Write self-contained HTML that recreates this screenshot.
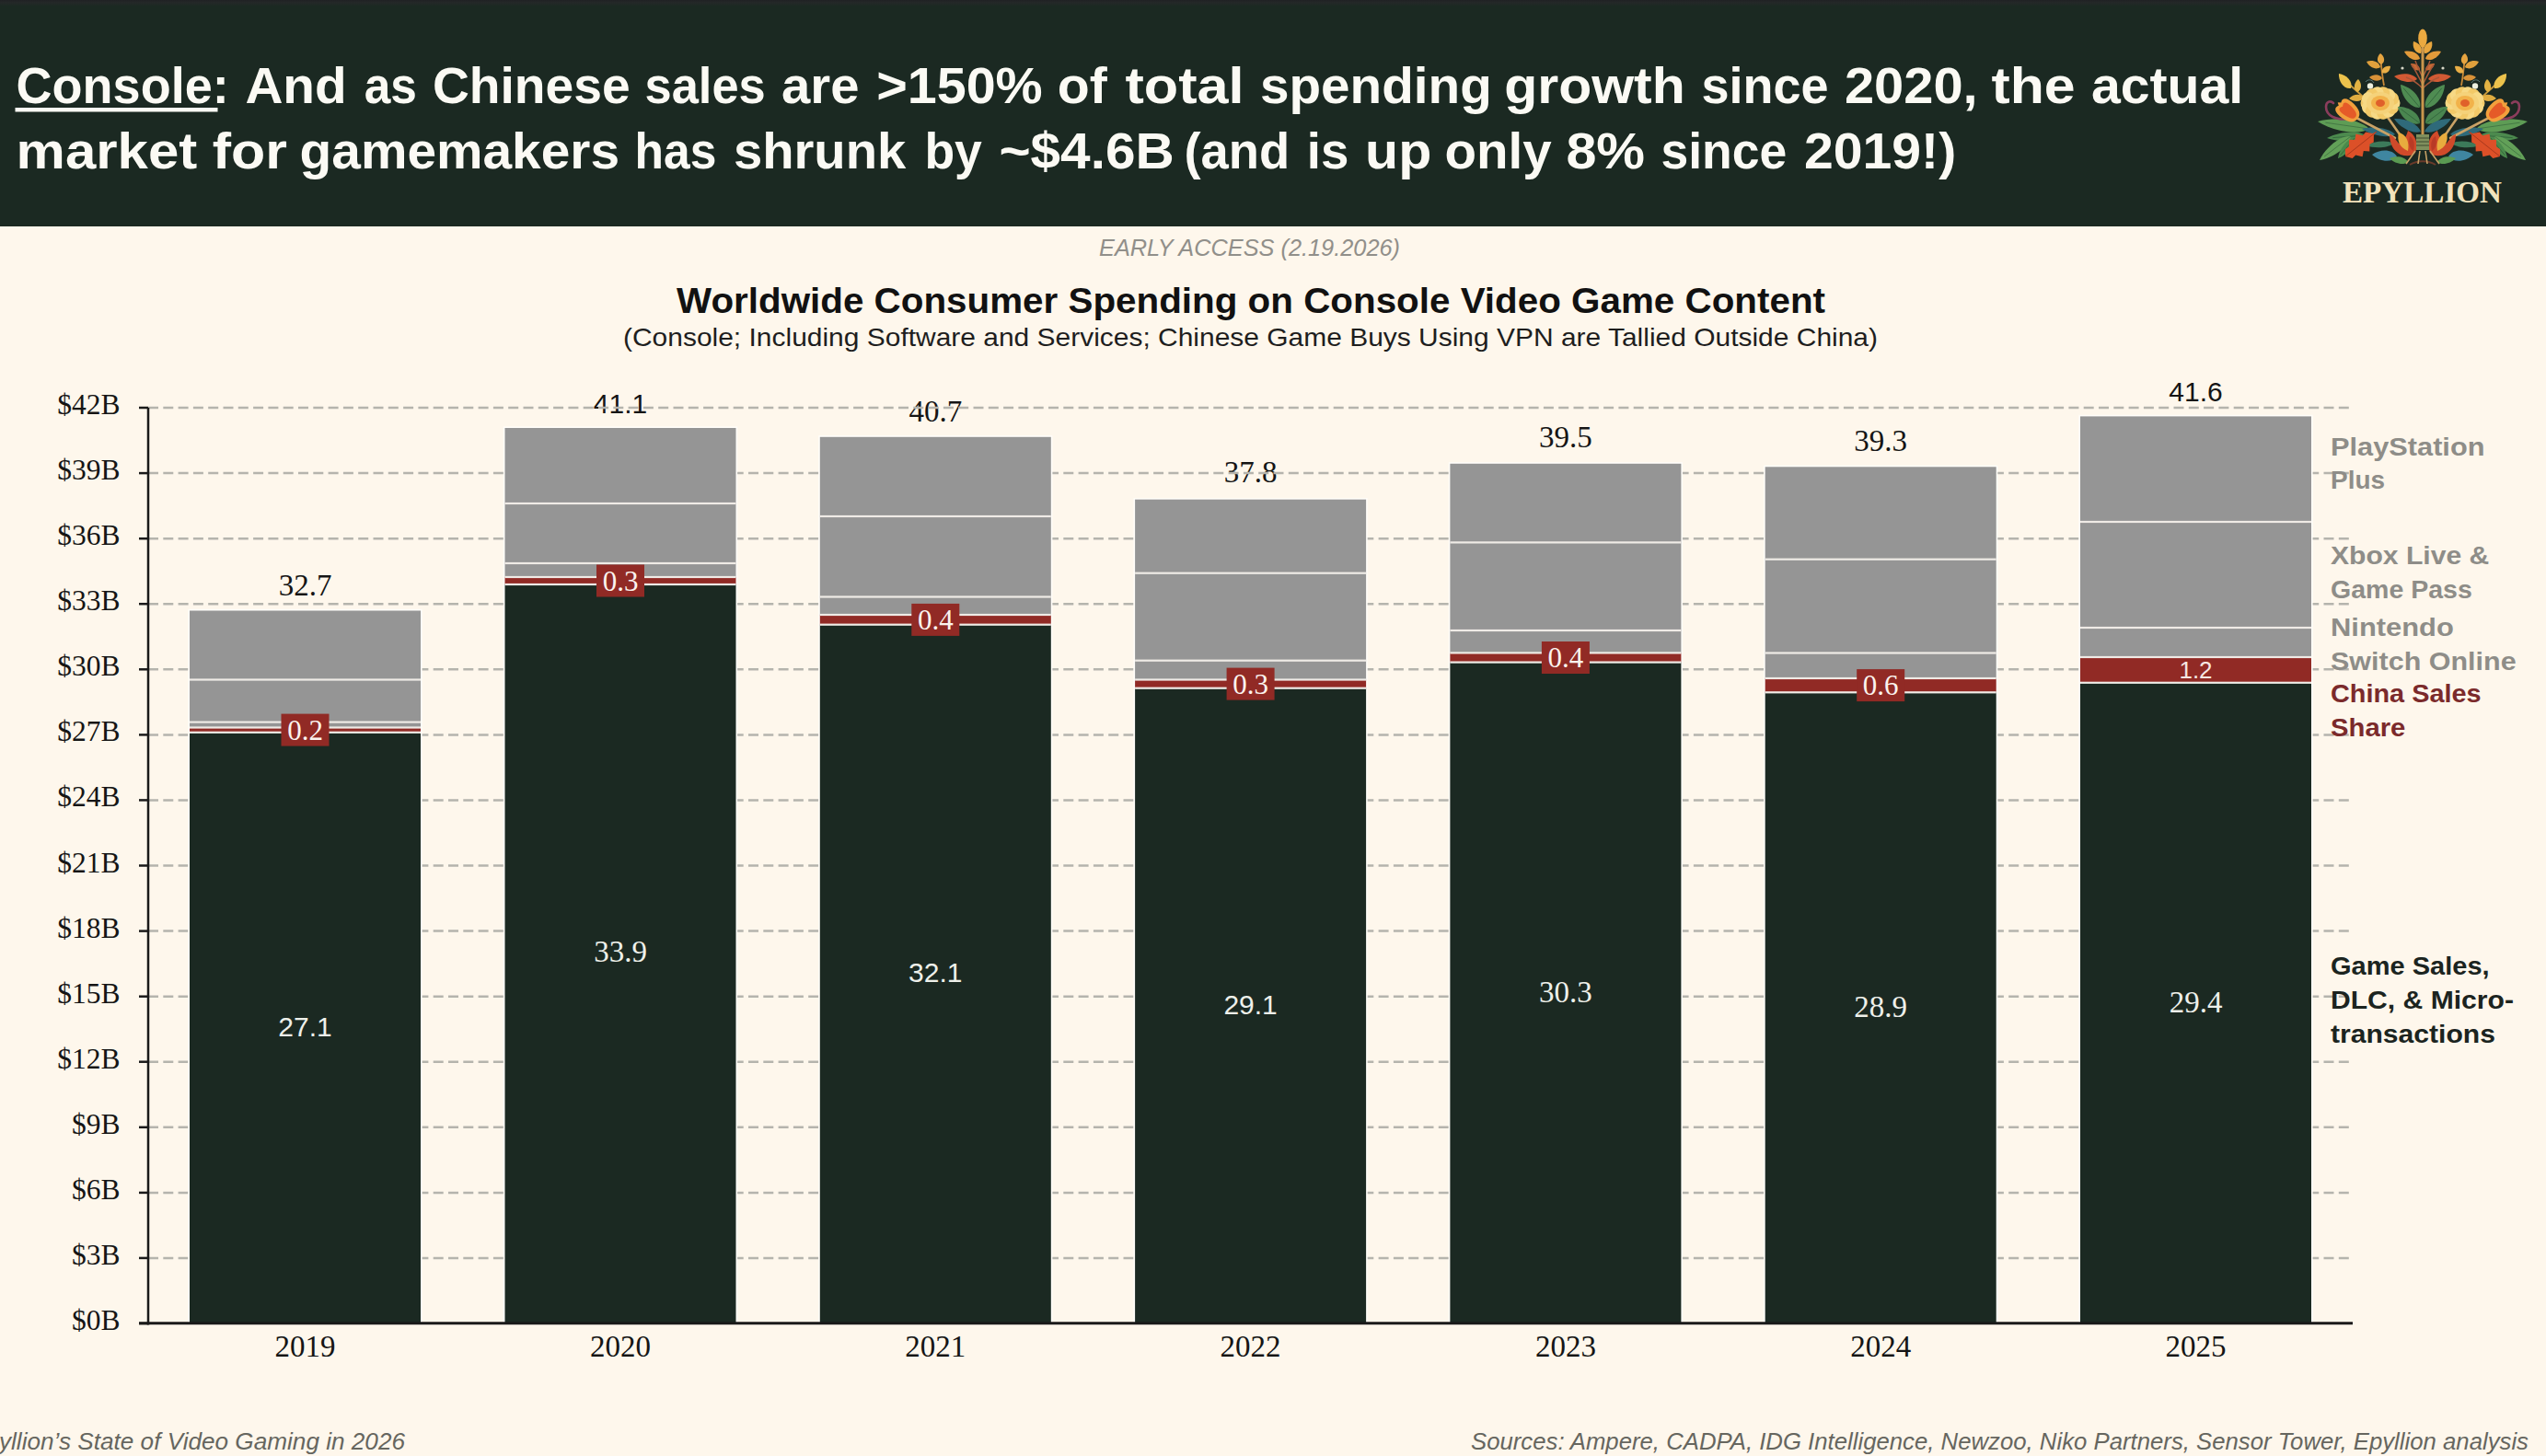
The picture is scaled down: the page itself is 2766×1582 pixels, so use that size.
<!DOCTYPE html><html><head><meta charset="utf-8"><style>html,body{margin:0;padding:0;background:#fef7ec;width:2766px;height:1582px;overflow:hidden}svg{display:block}text{font-family:"Liberation Sans",sans-serif}.sf{font-family:"Liberation Serif",serif}</style></head><body>
<svg width="2766" height="1582" viewBox="0 0 2766 1582">
<rect x="0" y="0" width="2766" height="1582" fill="#fef7ec"/>
<defs><linearGradient id="topg" x1="0" y1="0" x2="0" y2="1"><stop offset="0" stop-color="#202124"/><stop offset="0.4" stop-color="#242828"/><stop offset="1" stop-color="#1b2922"/></linearGradient></defs>
<rect x="0" y="0" width="2766" height="246" fill="#1b2922"/>
<rect x="0" y="0" width="2766" height="7" fill="url(#topg)"/>
<text x="17.6" y="112" font-size="56" font-weight="bold" fill="#fbfaf4" textLength="231.1" lengthAdjust="spacingAndGlyphs">Console:</text>
<text x="266.4" y="112" font-size="56" font-weight="bold" fill="#fbfaf4" textLength="110.3" lengthAdjust="spacingAndGlyphs">And</text>
<text x="395.7" y="112" font-size="56" font-weight="bold" fill="#fbfaf4" textLength="57.2" lengthAdjust="spacingAndGlyphs">as</text>
<text x="469.9" y="112" font-size="56" font-weight="bold" fill="#fbfaf4" textLength="214.8" lengthAdjust="spacingAndGlyphs">Chinese</text>
<text x="700.6" y="112" font-size="56" font-weight="bold" fill="#fbfaf4" textLength="131.1" lengthAdjust="spacingAndGlyphs">sales</text>
<text x="849.1" y="112" font-size="56" font-weight="bold" fill="#fbfaf4" textLength="84.4" lengthAdjust="spacingAndGlyphs">are</text>
<text x="952.2" y="112" font-size="56" font-weight="bold" fill="#fbfaf4" textLength="180.5" lengthAdjust="spacingAndGlyphs">&gt;150%</text>
<text x="1148.8" y="112" font-size="56" font-weight="bold" fill="#fbfaf4" textLength="54.0" lengthAdjust="spacingAndGlyphs">of</text>
<text x="1222.4" y="112" font-size="56" font-weight="bold" fill="#fbfaf4" textLength="129.2" lengthAdjust="spacingAndGlyphs">total</text>
<text x="1368.9" y="112" font-size="56" font-weight="bold" fill="#fbfaf4" textLength="251.9" lengthAdjust="spacingAndGlyphs">spending</text>
<text x="1634.2" y="112" font-size="56" font-weight="bold" fill="#fbfaf4" textLength="196.6" lengthAdjust="spacingAndGlyphs">growth</text>
<text x="1848.4" y="112" font-size="56" font-weight="bold" fill="#fbfaf4" textLength="138.2" lengthAdjust="spacingAndGlyphs">since</text>
<text x="2003.9" y="112" font-size="56" font-weight="bold" fill="#fbfaf4" textLength="144.8" lengthAdjust="spacingAndGlyphs">2020,</text>
<text x="2163.4" y="112" font-size="56" font-weight="bold" fill="#fbfaf4" textLength="91.2" lengthAdjust="spacingAndGlyphs">the</text>
<text x="2271.9" y="112" font-size="56" font-weight="bold" fill="#fbfaf4" textLength="165.3" lengthAdjust="spacingAndGlyphs">actual</text>
<text x="17.6" y="182.8" font-size="56" font-weight="bold" fill="#fbfaf4" textLength="196.6" lengthAdjust="spacingAndGlyphs">market</text>
<text x="230.7" y="182.8" font-size="56" font-weight="bold" fill="#fbfaf4" textLength="81.2" lengthAdjust="spacingAndGlyphs">for</text>
<text x="325.6" y="182.8" font-size="56" font-weight="bold" fill="#fbfaf4" textLength="347.4" lengthAdjust="spacingAndGlyphs">gamemakers</text>
<text x="689.6" y="182.8" font-size="56" font-weight="bold" fill="#fbfaf4" textLength="88.9" lengthAdjust="spacingAndGlyphs">has</text>
<text x="796.9" y="182.8" font-size="56" font-weight="bold" fill="#fbfaf4" textLength="187.4" lengthAdjust="spacingAndGlyphs">shrunk</text>
<text x="1004.4" y="182.8" font-size="56" font-weight="bold" fill="#fbfaf4" textLength="62.5" lengthAdjust="spacingAndGlyphs">by</text>
<text x="1085.4" y="182.8" font-size="56" font-weight="bold" fill="#fbfaf4" textLength="190.3" lengthAdjust="spacingAndGlyphs">~$4.6B</text>
<text x="1286.4" y="182.8" font-size="56" font-weight="bold" fill="#fbfaf4" textLength="114.7" lengthAdjust="spacingAndGlyphs">(and</text>
<text x="1419.7" y="182.8" font-size="56" font-weight="bold" fill="#fbfaf4" textLength="45.6" lengthAdjust="spacingAndGlyphs">is</text>
<text x="1483.0" y="182.8" font-size="56" font-weight="bold" fill="#fbfaf4" textLength="72.3" lengthAdjust="spacingAndGlyphs">up</text>
<text x="1569.4" y="182.8" font-size="56" font-weight="bold" fill="#fbfaf4" textLength="116.3" lengthAdjust="spacingAndGlyphs">only</text>
<text x="1701.4" y="182.8" font-size="56" font-weight="bold" fill="#fbfaf4" textLength="85.7" lengthAdjust="spacingAndGlyphs">8%</text>
<text x="1804.4" y="182.8" font-size="56" font-weight="bold" fill="#fbfaf4" textLength="136.9" lengthAdjust="spacingAndGlyphs">since</text>
<text x="1959.9" y="182.8" font-size="56" font-weight="bold" fill="#fbfaf4" textLength="165.3" lengthAdjust="spacingAndGlyphs">2019!)</text>
<rect x="16.5" y="117" width="220" height="4.5" fill="#fbfaf4"/>
<g transform="translate(2632,0)">
<defs>
<g id="half">
<path d="M58.0,140.0 C70.5,147.8 98.3,142.4 114.0,132.0 C96.1,126.4 67.9,129.0 58.0,140.0 Z" fill="#5e9c55"/><path d="M58.0,140.0 L105.6,133.2" stroke="#3d7040" stroke-width="0.8"/>
<path d="M62.0,147.0 C69.9,154.3 91.0,154.8 104.0,150.0 C91.8,143.4 70.9,140.9 62.0,147.0 Z" fill="#4c8a4e"/><path d="M62.0,147.0 L97.7,149.6" stroke="#2f6038" stroke-width="0.8"/>
<path d="M78.0,148.0 C79.9,159.6 97.6,171.7 112.0,174.0 C106.0,160.7 89.7,146.8 78.0,148.0 Z" fill="#62a058"/><path d="M78.0,148.0 L106.9,170.1" stroke="#3d7040" stroke-width="0.8"/>
<path d="M74.0,150.0 C72.9,158.2 82.6,168.7 92.0,172.0 C90.6,162.1 82.3,150.6 74.0,150.0 Z" fill="#4a8a4c"/><path d="M74.0,150.0 L89.3,168.7" stroke="#2f6038" stroke-width="0.8"/>
<path d="M30.0,146.0 C38.2,150.8 56.1,146.9 66.0,140.0 C54.3,136.7 36.2,138.8 30.0,146.0 Z" fill="#2f6a7a"/>
<path d="M32.0,156.0 C37.7,161.1 52.7,161.4 62.0,158.0 C53.3,153.4 38.3,151.7 32.0,156.0 Z" fill="#3c7a5a"/>
<polygon points="84.0,170.0 84.1,162.1 80.1,159.4 80.0,151.8 73.6,152.1 72.6,145.6 65.1,147.2 61.9,143.5 54.5,145.1 50.0,143.0 53.1,146.9 53.2,154.5 57.5,156.8 57.7,164.4 64.2,163.9 65.4,170.2 72.8,168.6 76.3,171.9" fill="#dc5028"/>
<path d="M84,170 L50,143" stroke="#a8381c" stroke-width="1"/>
<path d="M72,128 L30,150" stroke="#c9a266" stroke-width="2.6" stroke-linecap="round"/>
<path d="M39,126 L25,146" stroke="#c9a266" stroke-width="2.6" stroke-linecap="round"/>
<path d="M80,129 C94,131 105,126 105,116 C105,110 100,109 97,112" stroke="#8b3d5c" stroke-width="2.6" fill="none" stroke-linecap="round"/>
<g transform="translate(80,121.5) rotate(50)"><path d="M-10,-1 C-11,-12 -7,-16 -2,-13 L0,-16 L2,-13 C7,-16 11,-12 10,-1 C9,9 5,12 0,12 C-5,12 -9,9 -10,-1 Z" fill="#f2a03c"/><path d="M-6,-2 C-7,-10 -4,-12 0,-9 C4,-12 7,-10 6,-2 C5,7 3,9 0,9 C-3,9 -5,7 -6,-2 Z" fill="#e55a28"/></g>
<path d="M64,106 C72,98 80,92 88,84" stroke="#c99a3c" stroke-width="1.8" fill="none"/>
<path d="M78.0,96.0 C85.8,97.1 91.6,88.4 91.0,80.0 C82.6,81.2 75.4,88.5 78.0,96.0 Z" fill="#ecc24c"/>
<path d="M71.0,100.0 C75.9,96.8 74.7,89.9 70.0,86.0 C65.9,90.5 65.7,97.6 71.0,100.0 Z" fill="#e3b243"/>
<path d="M64.0,106.0 C66.9,111.3 74.9,111.1 80.0,107.0 C75.5,102.3 67.5,101.1 64.0,106.0 Z" fill="#e0ac40"/>
<path d="M42,93 C44,82 45,72 46,60" stroke="#c98a38" stroke-width="1.8" fill="none"/>
<path d="M45.0,70.0 C50.3,68.0 50.1,62.0 46.0,58.0 C41.3,61.2 40.1,67.2 45.0,70.0 Z" fill="#e6a440"/>
<path d="M46.0,73.0 C50.9,76.6 58.1,72.9 61.0,67.0 C54.9,64.7 47.1,67.0 46.0,73.0 Z" fill="#e0a03c"/>
<path d="M44.0,79.0 C45.0,74.0 40.1,71.0 35.0,72.0 C35.3,77.2 39.4,81.2 44.0,79.0 Z" fill="#e9ae46"/>
<path d="M44.0,85.0 C47.1,89.4 54.1,88.2 58.0,84.0 C53.5,80.4 46.5,80.2 44.0,85.0 Z" fill="#d99238"/>
<circle cx="57" cy="93.5" r="3.2" fill="#eef0e0"/>
<path d="M53,90 C55,86 60,86 62,89" stroke="#6a8a8a" stroke-width="0.8" fill="none"/>
<g transform="translate(46,112)"><ellipse cx="15.0" cy="0.0" rx="6.5" ry="7" transform="rotate(0 15.0 0.0)" fill="#f2c968"/><ellipse cx="13.5" cy="5.0" rx="6.5" ry="7" transform="rotate(26 13.5 5.0)" fill="#f7d985"/><ellipse cx="9.4" cy="9.0" rx="6.5" ry="7" transform="rotate(51 9.4 9.0)" fill="#f2c968"/><ellipse cx="3.3" cy="11.2" rx="6.5" ry="7" transform="rotate(77 3.3 11.2)" fill="#f7d985"/><ellipse cx="-3.3" cy="11.2" rx="6.5" ry="7" transform="rotate(103 -3.3 11.2)" fill="#f2c968"/><ellipse cx="-9.4" cy="9.0" rx="6.5" ry="7" transform="rotate(129 -9.4 9.0)" fill="#f7d985"/><ellipse cx="-13.5" cy="5.0" rx="6.5" ry="7" transform="rotate(154 -13.5 5.0)" fill="#f2c968"/><ellipse cx="-15.0" cy="0.0" rx="6.5" ry="7" transform="rotate(180 -15.0 0.0)" fill="#f7d985"/><ellipse cx="-13.5" cy="-5.0" rx="6.5" ry="7" transform="rotate(206 -13.5 -5.0)" fill="#f2c968"/><ellipse cx="-9.4" cy="-9.0" rx="6.5" ry="7" transform="rotate(231 -9.4 -9.0)" fill="#f7d985"/><ellipse cx="-3.3" cy="-11.2" rx="6.5" ry="7" transform="rotate(257 -3.3 -11.2)" fill="#f2c968"/><ellipse cx="3.3" cy="-11.2" rx="6.5" ry="7" transform="rotate(283 3.3 -11.2)" fill="#f7d985"/><ellipse cx="9.4" cy="-9.0" rx="6.5" ry="7" transform="rotate(309 9.4 -9.0)" fill="#f2c968"/><ellipse cx="13.5" cy="-5.0" rx="6.5" ry="7" transform="rotate(334 13.5 -5.0)" fill="#f7d985"/><ellipse rx="15" ry="12" fill="#f5d27a"/><ellipse rx="10" ry="8" fill="#f2b24a"/><ellipse rx="5" ry="4" fill="#e0602a"/></g>
<path d="M3.0,117.0 C13.9,117.6 23.4,104.3 24.0,92.0 C12.0,94.7 0.5,106.4 3.0,117.0 Z" fill="#4f8c52"/><path d="M3.0,117.0 L20.8,95.8" stroke="#2f6038" stroke-width="0.8"/>
<path d="M3.0,134.0 C13.1,137.4 24.3,127.4 27.0,116.0 C15.3,115.4 2.5,123.4 3.0,134.0 Z" fill="#4a8650"/><path d="M3.0,134.0 L23.4,118.7" stroke="#2f6038" stroke-width="0.8"/>
<path d="M2.0,143.0 C10.7,146.3 24.8,138.4 31.0,129.0 C19.8,128.0 4.9,134.1 2.0,143.0 Z" fill="#2f6a7a"/>
<g transform="translate(20,158)"><path d="M-12,8 C-16,-2 -12,-12 -4,-16 C-2,-8 2,-4 6,-2 C10,-8 14,-12 16,-12 C16,-2 12,6 4,10 C-2,12 -8,12 -12,8 Z" fill="#d04a2a"/><path d="M-4,6 C-6,-4 -2,-12 6,-14 C8,-6 6,2 -4,6 Z" fill="#e8ac3e"/><path d="M-10,6 C-12,-2 -10,-8 -6,-10 C-4,-2 -6,4 -10,6 Z" fill="#b83a26"/></g>
<path d="M28.0,170.0 C34.0,177.7 47.4,175.5 55.0,168.0 C46.4,161.7 32.8,161.5 28.0,170.0 Z" fill="#3f86a0"/>
<path d="M16.0,176.0 C21.0,180.2 30.9,177.5 36.0,172.0 C29.1,168.9 19.0,170.2 16.0,176.0 Z" fill="#5a9a52"/>
<path d="M2.0,58.0 C8.2,58.2 11.5,51.3 10.0,45.0 C3.7,46.5 -1.0,52.6 2.0,58.0 Z" fill="#e8a63e"/>
<path d="M3.0,64.0 C8.7,67.3 16.9,62.6 20.0,56.0 C12.9,54.2 4.1,57.5 3.0,64.0 Z" fill="#e29a3a"/>
<path d="M3.0,76.0 C7.3,77.9 12.0,73.9 13.0,69.0 C8.0,68.3 2.7,71.3 3.0,76.0 Z" fill="#c86a34"/>
<path d="M6.0,86.0 C11.7,91.4 24.1,89.0 31.0,83.0 C22.9,78.8 10.3,79.4 6.0,86.0 Z" fill="#d25a34"/>
<path d="M0,92 C4,84 8,76 12,70 M0,96 C6,90 12,86 18,84 M0,84 C3,78 6,72 8,66" stroke="#a8583a" stroke-width="1.4" fill="none"/>
<circle cx="22" cy="74" r="1.6" fill="#d8d8c8"/>
</g>
</defs>
<use href="#half"/>
<use href="#half" transform="scale(-1,1)"/>
<path d="M0,38 L0,148" stroke="#c9964c" stroke-width="3"/>
<ellipse cx="0" cy="41.5" rx="4.8" ry="10" fill="#eba940"/>
<rect x="-7" y="146" width="14" height="17" fill="#7f8f5c"/>
<path d="M-7,150 H7 M-7,154 H7 M-7,158 H7" stroke="#3f4a30" stroke-width="1"/>
<path d="M-14,179 C-6,174 6,174 14,179" stroke="#6a3a2a" stroke-width="2" fill="none"/>
<path d="M-8,164 L-18,178 M8,164 L18,178 M-3,164 L-5,178 M3,164 L5,178" stroke="#c9a266" stroke-width="1.6"/>
</g>
<text class="sf" x="2545" y="220" font-size="34" font-weight="bold" fill="#f3e3bc" textLength="173" lengthAdjust="spacingAndGlyphs">EPYLLION</text>
<text x="1194" y="278" font-size="25" font-style="italic" fill="#918f8a" textLength="327" lengthAdjust="spacingAndGlyphs">EARLY ACCESS (2.19.2026)</text>
<text x="735" y="339.5" font-size="38.5" font-weight="bold" fill="#111111" textLength="1248" lengthAdjust="spacingAndGlyphs">Worldwide Consumer Spending on Console Video Game Content</text>
<text x="677" y="375.5" font-size="27.5" fill="#1e1e1e" textLength="1363" lengthAdjust="spacingAndGlyphs">(Console; Including Software and Services; Chinese Game Buys Using VPN are Tallied Outside China)</text>
<text class="sf" x="331.5" y="647" font-size="33" fill="#151515" text-anchor="middle">32.7</text>
<text x="674.0" y="449" font-size="30" fill="#151515" text-anchor="middle">41.1</text>
<text class="sf" x="1016.3" y="457.5" font-size="33" fill="#151515" text-anchor="middle">40.7</text>
<text class="sf" x="1358.6" y="524" font-size="33" fill="#151515" text-anchor="middle">37.8</text>
<text class="sf" x="1700.9" y="486" font-size="33" fill="#151515" text-anchor="middle">39.5</text>
<text class="sf" x="2043.2" y="489.7" font-size="33" fill="#151515" text-anchor="middle">39.3</text>
<text x="2385.5" y="435.5" font-size="30" fill="#151515" text-anchor="middle">41.6</text>
<line x1="151" y1="1438.0" x2="161" y2="1438.0" stroke="#1a1a1a" stroke-width="2.5"/>
<text class="sf" x="130.5" y="1445.0" font-size="31.5" fill="#151515" text-anchor="end">$0B</text>
<line x1="161" y1="1366.9" x2="2556" y2="1366.9" stroke="#b5b4ad" stroke-width="2.5" stroke-dasharray="11 5.3"/>
<line x1="151" y1="1366.9" x2="161" y2="1366.9" stroke="#1a1a1a" stroke-width="2.5"/>
<text class="sf" x="130.5" y="1373.9" font-size="31.5" fill="#151515" text-anchor="end">$3B</text>
<line x1="161" y1="1295.9" x2="2556" y2="1295.9" stroke="#b5b4ad" stroke-width="2.5" stroke-dasharray="11 5.3"/>
<line x1="151" y1="1295.9" x2="161" y2="1295.9" stroke="#1a1a1a" stroke-width="2.5"/>
<text class="sf" x="130.5" y="1302.9" font-size="31.5" fill="#151515" text-anchor="end">$6B</text>
<line x1="161" y1="1224.8" x2="2556" y2="1224.8" stroke="#b5b4ad" stroke-width="2.5" stroke-dasharray="11 5.3"/>
<line x1="151" y1="1224.8" x2="161" y2="1224.8" stroke="#1a1a1a" stroke-width="2.5"/>
<text class="sf" x="130.5" y="1231.8" font-size="31.5" fill="#151515" text-anchor="end">$9B</text>
<line x1="161" y1="1153.7" x2="2556" y2="1153.7" stroke="#b5b4ad" stroke-width="2.5" stroke-dasharray="11 5.3"/>
<line x1="151" y1="1153.7" x2="161" y2="1153.7" stroke="#1a1a1a" stroke-width="2.5"/>
<text class="sf" x="130.5" y="1160.7" font-size="31.5" fill="#151515" text-anchor="end">$12B</text>
<line x1="161" y1="1082.7" x2="2556" y2="1082.7" stroke="#b5b4ad" stroke-width="2.5" stroke-dasharray="11 5.3"/>
<line x1="151" y1="1082.7" x2="161" y2="1082.7" stroke="#1a1a1a" stroke-width="2.5"/>
<text class="sf" x="130.5" y="1089.7" font-size="31.5" fill="#151515" text-anchor="end">$15B</text>
<line x1="161" y1="1011.6" x2="2556" y2="1011.6" stroke="#b5b4ad" stroke-width="2.5" stroke-dasharray="11 5.3"/>
<line x1="151" y1="1011.6" x2="161" y2="1011.6" stroke="#1a1a1a" stroke-width="2.5"/>
<text class="sf" x="130.5" y="1018.6" font-size="31.5" fill="#151515" text-anchor="end">$18B</text>
<line x1="161" y1="940.5" x2="2556" y2="940.5" stroke="#b5b4ad" stroke-width="2.5" stroke-dasharray="11 5.3"/>
<line x1="151" y1="940.5" x2="161" y2="940.5" stroke="#1a1a1a" stroke-width="2.5"/>
<text class="sf" x="130.5" y="947.5" font-size="31.5" fill="#151515" text-anchor="end">$21B</text>
<line x1="161" y1="869.4" x2="2556" y2="869.4" stroke="#b5b4ad" stroke-width="2.5" stroke-dasharray="11 5.3"/>
<line x1="151" y1="869.4" x2="161" y2="869.4" stroke="#1a1a1a" stroke-width="2.5"/>
<text class="sf" x="130.5" y="876.4" font-size="31.5" fill="#151515" text-anchor="end">$24B</text>
<line x1="161" y1="798.4" x2="2556" y2="798.4" stroke="#b5b4ad" stroke-width="2.5" stroke-dasharray="11 5.3"/>
<line x1="151" y1="798.4" x2="161" y2="798.4" stroke="#1a1a1a" stroke-width="2.5"/>
<text class="sf" x="130.5" y="805.4" font-size="31.5" fill="#151515" text-anchor="end">$27B</text>
<line x1="161" y1="727.3" x2="2556" y2="727.3" stroke="#b5b4ad" stroke-width="2.5" stroke-dasharray="11 5.3"/>
<line x1="151" y1="727.3" x2="161" y2="727.3" stroke="#1a1a1a" stroke-width="2.5"/>
<text class="sf" x="130.5" y="734.3" font-size="31.5" fill="#151515" text-anchor="end">$30B</text>
<line x1="161" y1="656.2" x2="2556" y2="656.2" stroke="#b5b4ad" stroke-width="2.5" stroke-dasharray="11 5.3"/>
<line x1="151" y1="656.2" x2="161" y2="656.2" stroke="#1a1a1a" stroke-width="2.5"/>
<text class="sf" x="130.5" y="663.2" font-size="31.5" fill="#151515" text-anchor="end">$33B</text>
<line x1="161" y1="585.2" x2="2556" y2="585.2" stroke="#b5b4ad" stroke-width="2.5" stroke-dasharray="11 5.3"/>
<line x1="151" y1="585.2" x2="161" y2="585.2" stroke="#1a1a1a" stroke-width="2.5"/>
<text class="sf" x="130.5" y="592.2" font-size="31.5" fill="#151515" text-anchor="end">$36B</text>
<line x1="161" y1="514.1" x2="2556" y2="514.1" stroke="#b5b4ad" stroke-width="2.5" stroke-dasharray="11 5.3"/>
<line x1="151" y1="514.1" x2="161" y2="514.1" stroke="#1a1a1a" stroke-width="2.5"/>
<text class="sf" x="130.5" y="521.1" font-size="31.5" fill="#151515" text-anchor="end">$39B</text>
<line x1="161" y1="443.0" x2="2556" y2="443.0" stroke="#b5b4ad" stroke-width="2.5" stroke-dasharray="11 5.3"/>
<line x1="151" y1="443.0" x2="161" y2="443.0" stroke="#1a1a1a" stroke-width="2.5"/>
<text class="sf" x="130.5" y="450.0" font-size="31.5" fill="#151515" text-anchor="end">$42B</text>
<line x1="161" y1="443" x2="161" y2="1439.5" stroke="#1a1a1a" stroke-width="2.5"/>
<rect x="204.4" y="661.9" width="254.2" height="776.1" fill="#fffdf9"/>
<rect x="206" y="663.5" width="251" height="127.0" fill="#959595"/>
<rect x="206" y="790.5" width="251" height="5.3" fill="#912a25"/>
<rect x="206" y="795.8" width="251" height="642.2" fill="#1b2922"/>
<rect x="206" y="737.4" width="251" height="2.2" fill="#efebe6"/>
<rect x="206" y="783.5" width="251" height="2.2" fill="#efebe6"/>
<rect x="206" y="789.4" width="251" height="2.2" fill="#efebe6"/>
<rect x="206" y="794.7" width="251" height="2.2" fill="#efebe6"/>
<rect x="546.9" y="463.4" width="254.2" height="974.6" fill="#fffdf9"/>
<rect x="548.5" y="465.0" width="251" height="162.0" fill="#959595"/>
<rect x="548.5" y="627.0" width="251" height="8.0" fill="#912a25"/>
<rect x="548.5" y="635.0" width="251" height="803.0" fill="#1b2922"/>
<rect x="548.5" y="545.9" width="251" height="2.2" fill="#efebe6"/>
<rect x="548.5" y="610.9" width="251" height="2.2" fill="#efebe6"/>
<rect x="548.5" y="625.9" width="251" height="2.2" fill="#efebe6"/>
<rect x="548.5" y="633.9" width="251" height="2.2" fill="#efebe6"/>
<rect x="889.1999999999999" y="473.2" width="254.2" height="964.8" fill="#fffdf9"/>
<rect x="890.8" y="474.8" width="251" height="193.2" fill="#959595"/>
<rect x="890.8" y="668.0" width="251" height="10.7" fill="#912a25"/>
<rect x="890.8" y="678.7" width="251" height="759.3" fill="#1b2922"/>
<rect x="890.8" y="559.9" width="251" height="2.2" fill="#efebe6"/>
<rect x="890.8" y="647.4" width="251" height="2.2" fill="#efebe6"/>
<rect x="890.8" y="666.9" width="251" height="2.2" fill="#efebe6"/>
<rect x="890.8" y="677.6" width="251" height="2.2" fill="#efebe6"/>
<rect x="1231.5" y="541.1" width="254.2" height="896.9" fill="#fffdf9"/>
<rect x="1233.1" y="542.7" width="251" height="195.8" fill="#959595"/>
<rect x="1233.1" y="738.5" width="251" height="9.2" fill="#912a25"/>
<rect x="1233.1" y="747.7" width="251" height="690.3" fill="#1b2922"/>
<rect x="1233.1" y="621.6" width="251" height="2.2" fill="#efebe6"/>
<rect x="1233.1" y="716.6" width="251" height="2.2" fill="#efebe6"/>
<rect x="1233.1" y="737.4" width="251" height="2.2" fill="#efebe6"/>
<rect x="1233.1" y="746.6" width="251" height="2.2" fill="#efebe6"/>
<rect x="1573.8000000000002" y="502.2" width="254.2" height="935.8" fill="#fffdf9"/>
<rect x="1575.4" y="503.8" width="251" height="205.6" fill="#959595"/>
<rect x="1575.4" y="709.4" width="251" height="10.2" fill="#912a25"/>
<rect x="1575.4" y="719.6" width="251" height="718.4" fill="#1b2922"/>
<rect x="1575.4" y="588.3" width="251" height="2.2" fill="#efebe6"/>
<rect x="1575.4" y="683.9" width="251" height="2.2" fill="#efebe6"/>
<rect x="1575.4" y="708.3" width="251" height="2.2" fill="#efebe6"/>
<rect x="1575.4" y="718.5" width="251" height="2.2" fill="#efebe6"/>
<rect x="1916.1000000000001" y="505.7" width="254.2" height="932.3" fill="#fffdf9"/>
<rect x="1917.7" y="507.3" width="251" height="229.7" fill="#959595"/>
<rect x="1917.7" y="737.0" width="251" height="15.3" fill="#912a25"/>
<rect x="1917.7" y="752.3" width="251" height="685.7" fill="#1b2922"/>
<rect x="1917.7" y="606.6" width="251" height="2.2" fill="#efebe6"/>
<rect x="1917.7" y="708.4" width="251" height="2.2" fill="#efebe6"/>
<rect x="1917.7" y="735.9" width="251" height="2.2" fill="#efebe6"/>
<rect x="1917.7" y="751.2" width="251" height="2.2" fill="#efebe6"/>
<rect x="2258.4" y="450.79999999999995" width="254.2" height="987.2" fill="#fffdf9"/>
<rect x="2260" y="452.4" width="251" height="261.6" fill="#959595"/>
<rect x="2260" y="714.0" width="251" height="27.8" fill="#912a25"/>
<rect x="2260" y="741.8" width="251" height="696.2" fill="#1b2922"/>
<rect x="2260" y="565.9" width="251" height="2.2" fill="#efebe6"/>
<rect x="2260" y="680.9" width="251" height="2.2" fill="#efebe6"/>
<rect x="2260" y="712.9" width="251" height="2.2" fill="#efebe6"/>
<rect x="2260" y="740.7" width="251" height="2.2" fill="#efebe6"/>
<line x1="151" y1="1437.8" x2="2556" y2="1437.8" stroke="#1a1a1a" stroke-width="3"/>
<text x="331.5" y="1126" font-size="30" fill="#eef0ea" text-anchor="middle">27.1</text>
<text class="sf" x="331.5" y="1473.5" font-size="33" fill="#151515" text-anchor="middle">2019</text>
<rect x="305.5" y="775.6" width="52" height="35" fill="#912a25"/>
<text class="sf" x="331.5" y="803.6" font-size="31" fill="#fbf3ee" text-anchor="middle">0.2</text>
<text class="sf" x="674.0" y="1045.4" font-size="33" fill="#eef0ea" text-anchor="middle">33.9</text>
<text class="sf" x="674.0" y="1473.5" font-size="33" fill="#151515" text-anchor="middle">2020</text>
<rect x="648.0" y="613.5" width="52" height="35" fill="#912a25"/>
<text class="sf" x="674.0" y="641.5" font-size="31" fill="#fbf3ee" text-anchor="middle">0.3</text>
<text x="1016.3" y="1067.2" font-size="30" fill="#eef0ea" text-anchor="middle">32.1</text>
<text class="sf" x="1016.3" y="1473.5" font-size="33" fill="#151515" text-anchor="middle">2021</text>
<rect x="990.3" y="655.9" width="52" height="35" fill="#912a25"/>
<text class="sf" x="1016.3" y="683.9" font-size="31" fill="#fbf3ee" text-anchor="middle">0.4</text>
<text x="1358.6" y="1101.7" font-size="30" fill="#eef0ea" text-anchor="middle">29.1</text>
<text class="sf" x="1358.6" y="1473.5" font-size="33" fill="#151515" text-anchor="middle">2022</text>
<rect x="1332.6" y="725.6" width="52" height="35" fill="#912a25"/>
<text class="sf" x="1358.6" y="753.6" font-size="31" fill="#fbf3ee" text-anchor="middle">0.3</text>
<text class="sf" x="1700.9" y="1089.3" font-size="33" fill="#eef0ea" text-anchor="middle">30.3</text>
<text class="sf" x="1700.9" y="1473.5" font-size="33" fill="#151515" text-anchor="middle">2023</text>
<rect x="1674.9" y="697.0" width="52" height="35" fill="#912a25"/>
<text class="sf" x="1700.9" y="725.0" font-size="31" fill="#fbf3ee" text-anchor="middle">0.4</text>
<text class="sf" x="2043.2" y="1105" font-size="33" fill="#eef0ea" text-anchor="middle">28.9</text>
<text class="sf" x="2043.2" y="1473.5" font-size="33" fill="#151515" text-anchor="middle">2024</text>
<rect x="2017.2" y="727.1" width="52" height="35" fill="#912a25"/>
<text class="sf" x="2043.2" y="755.1" font-size="31" fill="#fbf3ee" text-anchor="middle">0.6</text>
<text class="sf" x="2385.5" y="1100.3" font-size="33" fill="#eef0ea" text-anchor="middle">29.4</text>
<text class="sf" x="2385.5" y="1473.5" font-size="33" fill="#151515" text-anchor="middle">2025</text>
<text x="2385.5" y="737" font-size="26" fill="#f6e6e2" text-anchor="middle">1.2</text>
<text x="2532" y="495" font-size="27.5" font-weight="bold" fill="#8e8d88" textLength="167.5" lengthAdjust="spacingAndGlyphs">PlayStation</text>
<text x="2532" y="531.4" font-size="27.5" font-weight="bold" fill="#8e8d88" textLength="59.0" lengthAdjust="spacingAndGlyphs">Plus</text>
<text x="2532" y="612.5" font-size="27.5" font-weight="bold" fill="#8e8d88" textLength="172.3" lengthAdjust="spacingAndGlyphs">Xbox Live &amp;</text>
<text x="2532" y="649.5" font-size="27.5" font-weight="bold" fill="#8e8d88" textLength="153.8" lengthAdjust="spacingAndGlyphs">Game Pass</text>
<text x="2532" y="690.9" font-size="27.5" font-weight="bold" fill="#8e8d88" textLength="133.8" lengthAdjust="spacingAndGlyphs">Nintendo</text>
<text x="2532" y="727.6" font-size="27.5" font-weight="bold" fill="#8e8d88" textLength="201.6" lengthAdjust="spacingAndGlyphs">Switch Online</text>
<text x="2532" y="763.2" font-size="27.5" font-weight="bold" fill="#7b2a2b" textLength="163.6" lengthAdjust="spacingAndGlyphs">China Sales</text>
<text x="2532" y="800" font-size="27.5" font-weight="bold" fill="#7b2a2b" textLength="81.3" lengthAdjust="spacingAndGlyphs">Share</text>
<text x="2532" y="1059.2" font-size="27.5" font-weight="bold" fill="#1b2420" textLength="172.6" lengthAdjust="spacingAndGlyphs">Game Sales,</text>
<text x="2532" y="1096" font-size="27.5" font-weight="bold" fill="#1b2420" textLength="199.0" lengthAdjust="spacingAndGlyphs">DLC, &amp; Micro-</text>
<text x="2532" y="1132.6" font-size="27.5" font-weight="bold" fill="#1b2420" textLength="179.0" lengthAdjust="spacingAndGlyphs">transactions</text>
<text x="1598" y="1575.4" font-size="25" font-style="italic" fill="#66665f" textLength="1149" lengthAdjust="spacingAndGlyphs">Sources: Ampere, CADPA, IDG Intelligence, Newzoo, Niko Partners, Sensor Tower, Epyllion analysis</text>
<text x="-33" y="1575.4" font-size="25" font-style="italic" fill="#66665f" textLength="473" lengthAdjust="spacingAndGlyphs">Epyllion’s State of Video Gaming in 2026</text>
</svg></body></html>
